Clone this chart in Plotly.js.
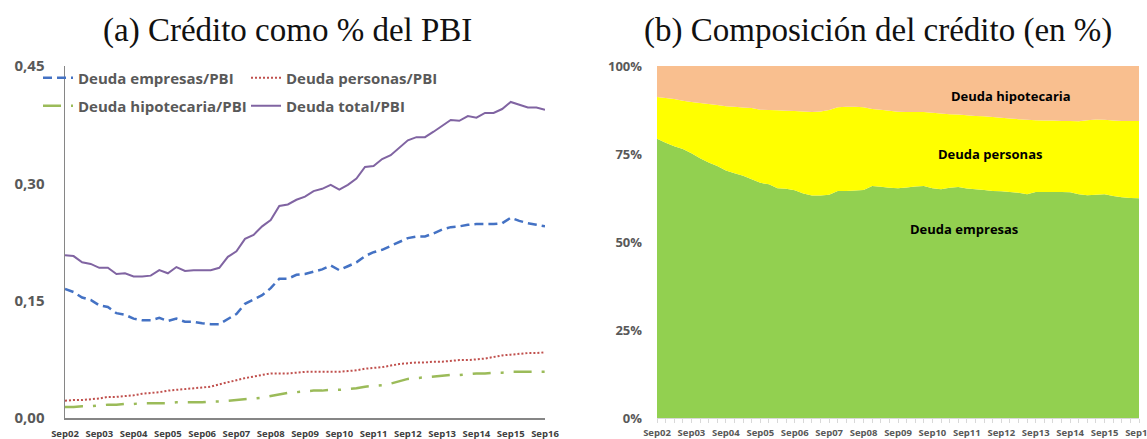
<!DOCTYPE html>
<html>
<head>
<meta charset="utf-8">
<script src="https://cdn.plot.ly/plotly-3.0.1.min.js"></script>
<style>
  html, body { margin: 0; padding: 0; background: #fff; }
  #chart { width: 1147px; height: 439px; }
</style>
</head>
<body>
<div id="chart"></div>
<script>
// quarterly data, Sep02 .. Sep16
var tickLabels = ["Sep02","Sep03","Sep04","Sep05","Sep06","Sep07","Sep08","Sep09","Sep10","Sep11","Sep12","Sep13","Sep14","Sep15","Sep16"];

// (a) credit as share of GDP
var empresasPBI = [0.165,0.161,0.154,0.151,0.144,0.142,0.134,0.132,0.127,0.125,0.125,0.128,0.124,0.127,0.123,0.123,0.121,0.120,0.120,0.127,0.133,0.146,0.152,0.157,0.166,0.178,0.178,
  0.183,0.184,0.187,0.190,0.195,0.189,0.194,0.199,0.207,0.212,0.215,0.220,0.225,0.230,0.232,0.232,0.236,0.241,0.244,0.245,0.247,0.248,0.248,0.248,0.249,0.256,0.252,0.249,0.247,0.245];
var personasPBI = [0.022,0.023,0.023,0.024,0.025,0.027,0.027,0.028,0.029,0.031,0.032,0.033,0.035,0.036,0.037,0.038,0.039,0.040,0.043,0.046,0.048,0.051,0.053,0.055,0.057,0.057,0.057,
  0.058,0.059,0.059,0.059,0.059,0.059,0.060,0.061,0.063,0.064,0.065,0.067,0.069,0.070,0.071,0.071,0.072,0.072,0.073,0.074,0.074,0.075,0.076,0.078,0.080,0.081,0.082,0.083,0.083,0.084];
var hipotecariaPBI = [0.014,0.014,0.015,0.015,0.016,0.017,0.017,0.018,0.018,0.019,0.019,0.019,0.019,0.020,0.020,0.020,0.020,0.021,0.021,0.022,0.023,0.024,0.025,0.026,0.028,0.030,0.032,
  0.033,0.034,0.035,0.035,0.036,0.036,0.037,0.038,0.040,0.041,0.042,0.044,0.047,0.050,0.051,0.052,0.053,0.054,0.055,0.055,0.056,0.057,0.057,0.058,0.058,0.059,0.059,0.059,0.059,0.059];
var totalPBI = [0.208,0.207,0.199,0.197,0.192,0.192,0.184,0.185,0.181,0.181,0.182,0.189,0.185,0.193,0.188,0.189,0.189,0.189,0.192,0.206,0.213,0.229,0.234,0.245,0.253,0.271,0.273,
  0.279,0.283,0.290,0.293,0.298,0.292,0.298,0.306,0.321,0.322,0.331,0.336,0.345,0.355,0.359,0.359,0.366,0.373,0.381,0.380,0.386,0.384,0.390,0.390,0.395,0.404,0.400,0.397,0.397,0.394];

// (b) composition of credit (shares)
var empresasShare = [0.793,0.782,0.772,0.764,0.752,0.738,0.726,0.716,0.703,0.695,0.688,0.678,0.668,0.664,0.653,0.651,0.647,0.638,0.632,0.632,0.634,0.645,0.645,0.646,0.648,0.659,0.657,
  0.654,0.653,0.655,0.658,0.659,0.653,0.650,0.654,0.656,0.652,0.650,0.648,0.645,0.644,0.642,0.640,0.636,0.642,0.642,0.642,0.642,0.641,0.636,0.633,0.634,0.636,0.631,0.627,0.625,0.624];
var personasShare = [0.119,0.127,0.134,0.137,0.146,0.157,0.166,0.173,0.183,0.189,0.194,0.203,0.208,0.211,0.221,0.222,0.225,0.233,0.237,0.239,0.241,0.238,0.239,0.238,0.235,0.219,0.219,
  0.219,0.217,0.214,0.211,0.210,0.214,0.215,0.209,0.206,0.208,0.208,0.209,0.210,0.209,0.209,0.209,0.211,0.204,0.203,0.203,0.202,0.203,0.207,0.213,0.214,0.211,0.214,0.217,0.219,0.220];
var hipotecariaShare = [0.088,0.091,0.094,0.099,0.102,0.105,0.108,0.111,0.114,0.116,0.118,0.119,0.124,0.125,0.126,0.127,0.128,0.129,0.131,0.129,0.125,0.117,0.116,0.116,0.117,0.122,0.124,
  0.127,0.130,0.131,0.131,0.131,0.133,0.135,0.137,0.138,0.140,0.142,0.143,0.145,0.147,0.149,0.151,0.153,0.154,0.155,0.155,0.156,0.156,0.157,0.154,0.152,0.153,0.155,0.156,0.156,0.156];

var xs = [];
for (var i = 0; i < totalPBI.length; i++) xs.push(i);
var tickVals = [];
for (var k = 0; k < tickLabels.length; k++) tickVals.push(k * 4);

var W = 1147, H = 439;
function px(x) { return x / W; }
function py(y) { return 1 - y / H; }

var gray = "#595959";
var tickFont = {family: "Open Sans", size: 15, color: gray, weight: "bold"};
var xFont = {family: "Open Sans", size: 9.5, color: "#404040", weight: "bold"};

var data = [
  {x: xs, y: empresasPBI, name: "Deuda empresas/PBI", type: "scatter", mode: "lines",
   line: {color: "#4472C4", width: 2.5, dash: "9px,5px"}, legend: "legend", xaxis: "x", yaxis: "y"},
  {x: xs, y: personasPBI, name: "Deuda personas/PBI", type: "scatter", mode: "lines",
   line: {color: "#C0504D", width: 2, dash: "2px,2px"}, legend: "legend", xaxis: "x", yaxis: "y"},
  {x: xs, y: hipotecariaPBI, name: "Deuda hipotecaria/PBI", type: "scatter", mode: "lines",
   line: {color: "#9BBB59", width: 2.5, dash: "18px,10px,3px,10px"}, legend: "legend2", xaxis: "x", yaxis: "y"},
  {x: xs, y: totalPBI, name: "Deuda total/PBI", type: "scatter", mode: "lines",
   line: {color: "#8064A2", width: 2}, legend: "legend2", xaxis: "x", yaxis: "y"},

  {x: xs, y: empresasShare, name: "Deuda empresas", type: "scatter", mode: "none", stackgroup: "b",
   fillcolor: "#92D050", showlegend: false, xaxis: "x2", yaxis: "y2", line: {width: 0}},
  {x: xs, y: personasShare, name: "Deuda personas", type: "scatter", mode: "none", stackgroup: "b",
   fillcolor: "#FFFF00", showlegend: false, xaxis: "x2", yaxis: "y2", line: {width: 0}},
  {x: xs, y: hipotecariaShare, name: "Deuda hipotecaria", type: "scatter", mode: "none", stackgroup: "b",
   fillcolor: "#F9BF8F", showlegend: false, xaxis: "x2", yaxis: "y2", line: {width: 0}}
];

var legendBase = {
  orientation: "h", xanchor: "left", yanchor: "middle", traceorder: "normal",
  entrywidth: 163, entrywidthmode: "pixels", itemwidth: 30,
  font: {family: "Open Sans", size: 15, color: gray, weight: "bold"},
  bgcolor: "rgba(0,0,0,0)", borderwidth: 0
};

var layout = {
  width: W, height: H,
  margin: {l: 0, r: 0, t: 0, b: 0},
  paper_bgcolor: "#fff", plot_bgcolor: "#fff",
  separators: ",.",
  xaxis: {domain: [px(65), px(545)], range: [0, 56], tickvals: tickVals, ticktext: tickLabels,
    showgrid: false, zeroline: false, showline: true, linecolor: "#868686", linewidth: 1.5,
    ticks: "", ticklabelstandoff: 6, tickfont: xFont, anchor: "y"},
  yaxis: {domain: [py(418), py(66)], range: [0, 0.45], tickvals: [0, 0.15, 0.30, 0.45], tickformat: ".2f",
    showgrid: false, zeroline: false, showline: true, linecolor: "#868686", linewidth: 1.5,
    ticks: "", ticklabelstandoff: 16, tickfont: tickFont, anchor: "x"},
  xaxis2: {domain: [px(657), px(1139)], range: [0, 56], tickvals: tickVals, ticktext: tickLabels,
    showgrid: false, zeroline: false, showline: true, linecolor: "#D9D9D9", linewidth: 1,
    ticks: "outside", ticklen: 4, tickcolor: "#D9D9D9", ticklabeloverflow: "allow",
    minor: {dtick: 1, tick0: 0, ticks: "outside", ticklen: 4, tickcolor: "#D9D9D9"},
    ticklabelstandoff: 2, tickfont: {family: "Open Sans", size: 9.5, color: gray, weight: "bold"}, anchor: "y2"},
  yaxis2: {domain: [py(418), py(66)], range: [0, 1], tickvals: [0, 0.25, 0.5, 0.75, 1], tickformat: ".0%",
    showgrid: false, zeroline: false, showline: false, ticks: "", ticklabelstandoff: 14,
    tickfont: {family: "Open Sans", size: 13, color: gray, weight: "bold"}, anchor: "x2"},
  legend: Object.assign({}, legendBase, {x: px(38), y: py(78)}),
  legend2: Object.assign({}, legendBase, {x: px(38), y: py(106)}),
  annotations: [
    {text: "(a) Crédito como % del PBI", xref: "paper", yref: "paper", x: px(287), y: py(30),
     xanchor: "center", yanchor: "middle",
     showarrow: false, font: {family: "Liberation Serif", size: 33, color: "#111"}},
    {text: "(b) Composición del crédito (en %)", xref: "paper", yref: "paper", x: px(878), y: py(30),
     xanchor: "center", yanchor: "middle",
     showarrow: false, font: {family: "Liberation Serif", size: 33, color: "#111"}},
    {text: "Deuda hipotecaria", xref: "paper", yref: "paper", x: px(1011), y: py(96),
     xanchor: "center", yanchor: "middle",
     showarrow: false, font: {family: "Open Sans", size: 13, color: "#000", weight: "bold"}},
    {text: "Deuda personas", xref: "paper", yref: "paper", x: px(990), y: py(154),
     xanchor: "center", yanchor: "middle",
     showarrow: false, font: {family: "Open Sans", size: 13, color: "#000", weight: "bold"}},
    {text: "Deuda empresas", xref: "paper", yref: "paper", x: px(964), y: py(229),
     xanchor: "center", yanchor: "middle",
     showarrow: false, font: {family: "Open Sans", size: 13, color: "#000", weight: "bold"}}
  ]
};

Plotly.newPlot("chart", data, layout, {displayModeBar: false, staticPlot: true});
</script>
</body>
</html>
